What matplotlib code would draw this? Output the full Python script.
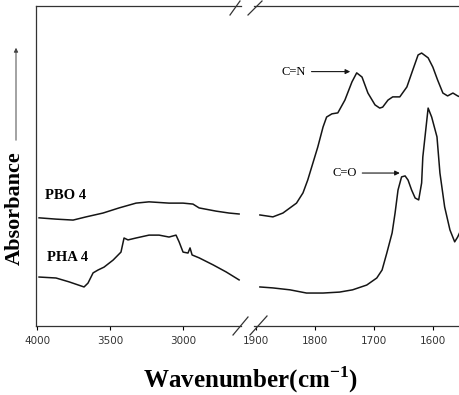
import numpy as np
import matplotlib
matplotlib.use("Agg")
import matplotlib.pyplot as plt
from matplotlib.lines import Line2D
from matplotlib.patches import FancyArrowPatch

# wavenumbers (cm-1) and absorbance (arb. units)
# high wavenumber region 4000-2600
wn_hi_pbo = [3986, 3870, 3753, 3664, 3548, 3438, 3322, 3233, 3096, 3000,
             2932, 2890, 2774, 2685, 2616]
abs_hi_pbo = [0.338, 0.334, 0.331, 0.341, 0.353, 0.369, 0.384, 0.388, 0.384, 0.384,
              0.381, 0.369, 0.359, 0.353, 0.350]

wn_hi_pha = [3986, 3870, 3781, 3678, 3651, 3616, 3582, 3541, 3479, 3425,
             3404, 3377, 3322, 3233, 3164, 3096, 3048, 3027, 3000, 2966,
             2952, 2938, 2890, 2794, 2705, 2616]
abs_hi_pha = [0.153, 0.150, 0.138, 0.122, 0.134, 0.166, 0.175, 0.184, 0.206, 0.231,
              0.275, 0.269, 0.275, 0.284, 0.284, 0.278, 0.284, 0.263, 0.231, 0.228,
              0.244, 0.222, 0.213, 0.191, 0.169, 0.144]

# low wavenumber region 1900-1555
wn_lo_pbo = [1893, 1871, 1854, 1831, 1820, 1812, 1795, 1786, 1780, 1771, 1761,
             1749, 1737, 1729, 1720, 1710, 1698, 1690, 1685, 1676, 1668, 1656,
             1644, 1634, 1625, 1619, 1608, 1600, 1592, 1583, 1575, 1566, 1558, 1554]
abs_lo_pbo = [0.347, 0.341, 0.353, 0.384, 0.416, 0.456, 0.559, 0.622, 0.653, 0.663,
              0.666, 0.706, 0.763, 0.791, 0.778, 0.728, 0.691, 0.681, 0.684, 0.706,
              0.716, 0.716, 0.747, 0.800, 0.847, 0.853, 0.838, 0.809, 0.769, 0.728,
              0.719, 0.728, 0.719, 0.716]

wn_lo_pha = [1893, 1871, 1842, 1814, 1786, 1758, 1736, 1712, 1695, 1686, 1678,
             1669, 1664, 1659, 1653, 1647, 1642, 1636, 1630, 1624, 1619, 1617,
             1612, 1608, 1602, 1593, 1588, 1580, 1571, 1563, 1558, 1554]
abs_lo_pha = [0.122, 0.119, 0.113, 0.103, 0.103, 0.106, 0.113, 0.128, 0.150, 0.175,
              0.228, 0.291, 0.353, 0.425, 0.466, 0.469, 0.456, 0.425, 0.400, 0.394,
              0.447, 0.528, 0.613, 0.681, 0.653, 0.591, 0.478, 0.372, 0.300, 0.263,
              0.278, 0.294]

ticks_hi = [4000, 3500, 3000]
ticks_lo = [1900, 1800, 1700, 1600]

W, H = 460, 395
fig = plt.figure(figsize=(W / 100, H / 100), dpi=100)

def px_box(x0, x1, ytop, ybot):
    return [x0 / W, 1 - ybot / H, (x1 - x0) / W, (ybot - ytop) / H]

ax1 = fig.add_axes(px_box(36, 241, 6, 326))
ax2 = fig.add_axes(px_box(254, 460, 6, 326))

lc = '#151515'
ax1.plot(wn_hi_pbo, abs_hi_pbo, color=lc, lw=1.1)
ax1.plot(wn_hi_pha, abs_hi_pha, color=lc, lw=1.1)
ax2.plot(wn_lo_pbo, abs_lo_pbo, color=lc, lw=1.1)
ax2.plot(wn_lo_pha, abs_lo_pha, color=lc, lw=1.1)

ax1.set_xlim(4007, 2603)
ax2.set_xlim(1903, 1554)
for ax in (ax1, ax2):
    ax.set_ylim(0, 1)
    ax.set_yticks([])
    ax.tick_params(axis='x', direction='out', length=3, width=0.8,
                   labelsize=7.5, labelcolor='#333333', pad=4)
    for s in ax.spines.values():
        s.set_linewidth(0.9)
        s.set_color('#333333')
ax1.set_xticks(ticks_hi)
ax2.set_xticks(ticks_lo)
ax1.spines['right'].set_visible(False)
ax2.spines['left'].set_visible(False)
ax2.spines['right'].set_bounds(0.83, 1.0)
ax2.spines['right'].set_linestyle(':')

serif = 'Liberation Serif'
ax1.text(3945, 0.388, 'PBO 4', family=serif, weight='bold', fontsize=10.5, va='bottom')
ax1.text(3932, 0.194, 'PHA 4', family=serif, weight='bold', fontsize=10.5, va='bottom')

ax2.annotate('C=N', xy=(1740, 0.795), xytext=(1815, 0.795), family=serif,
             fontsize=9, ha='right', va='center',
             arrowprops=dict(arrowstyle='-|>', color=lc, lw=0.8,
                             mutation_scale=7, shrinkA=2, shrinkB=0))
ax2.annotate('C=O', xy=(1656, 0.478), xytext=(1729, 0.478), family=serif,
             fontsize=9, ha='right', va='center',
             arrowprops=dict(arrowstyle='-|>', color=lc, lw=0.8,
                             mutation_scale=7, shrinkA=2, shrinkB=0))

# axis break marks
def slash(x0, y0, x1, y1):
    fig.add_artist(Line2D([x0 / W, x1 / W], [1 - y0 / H, 1 - y1 / H],
                          color='#333333', lw=0.9))

slash(233, 335, 248, 317)
slash(250, 335, 267, 316)
slash(230, 15, 240, 1)
slash(248, 15, 262, 1)

fig.text(250 / W, 1 - 380 / H, r'Wavenumber(cm$^{\mathregular{-1}}$)', family=serif,
         weight='bold', fontsize=18, ha='center', va='center')
fig.text(15 / W, 1 - 208 / H, 'Absorbance', family=serif, weight='bold',
         fontsize=16, rotation=90, ha='center', va='center')
fig.add_artist(FancyArrowPatch(
    (16 / W, 1 - 143 / H), (16 / W, 1 - 45 / H), transform=fig.transFigure,
    arrowstyle='-|>', mutation_scale=6, color='#444444', lw=0.7))

fig.savefig('out.png', dpi=100)
